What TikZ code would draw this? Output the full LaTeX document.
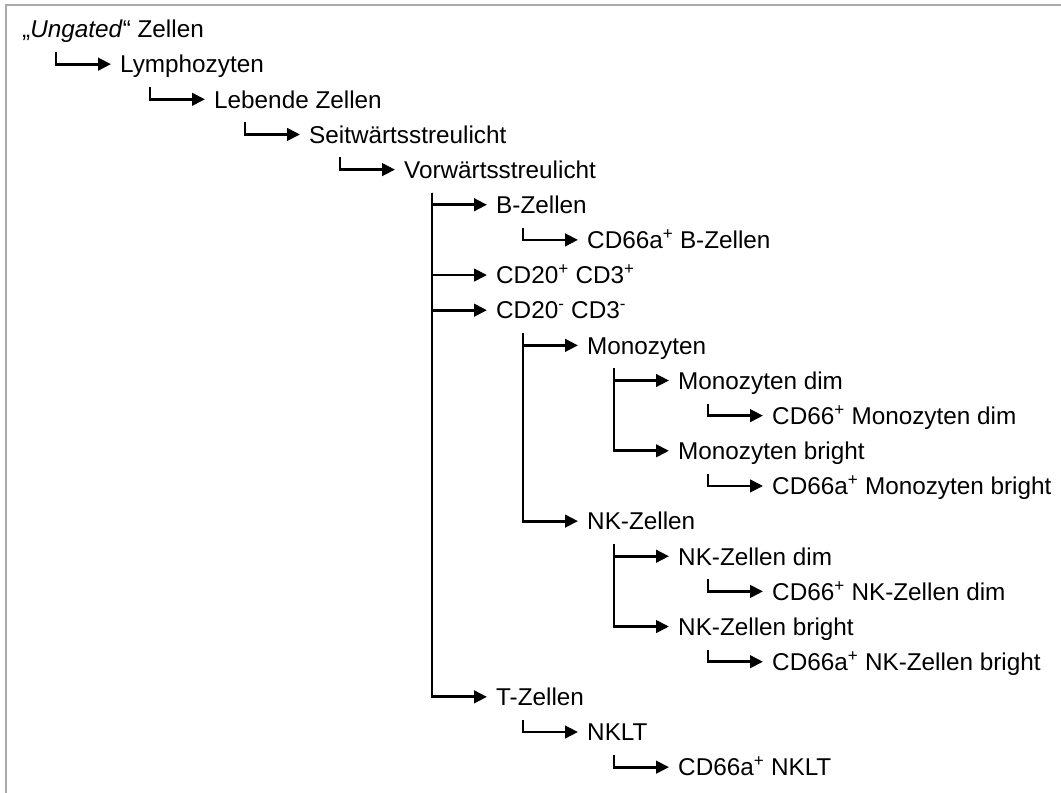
\documentclass[tikz,border=0pt]{standalone}
\usepackage{fontspec}
\setmainfont{Liberation Sans}
\usetikzlibrary{arrows.meta,calc}
\definecolor{framegray}{RGB}{170,170,170}
\newcommand\gatelink[2]{%
  \path ($(#2.west)+(-64,0)$) coordinate (cb) ($(#1.west)+(0,23)$) coordinate (ct);
  \draw[gatearrow] (cb |- ct) -- (cb) -- ($(#2.west)+(-9,0)$);}
\begin{document}
\begin{tikzpicture}[x=1pt,y=-1pt,
  gate/.style={anchor=west, inner sep=0pt, text height=17.5pt, text depth=0pt,
               font=\fontsize{24.3}{29}\selectfont},
  gatearrow/.style={line width=2.8pt, line join=miter, -{Triangle[length=13pt,width=12.5pt]}}]
\useasboundingbox (0,0) rectangle (1061,793);
\draw[framegray, line width=2pt] (6,793) -- (6,5) -- (1061,5);

\node[gate] (n1)  at (22,29)      {„\textit{Ungated}“ Zellen};
\node[gate] (n2)  at (120,64.15)  {Lymphozyten};
\node[gate] (n3)  at (214,99.3)   {Lebende Zellen};
\node[gate] (n4)  at (309,134.45) {Seitwärtsstreulicht};
\node[gate] (n5)  at (404,169.6)  {Vorwärtsstreulicht};
\node[gate] (n6)  at (496,204.75) {B-Zellen};
\node[gate] (n7)  at (587,239.9)  {CD66a\textsuperscript{+} B-Zellen};
\node[gate] (n8)  at (496,275.05) {CD20\textsuperscript{+} CD3\textsuperscript{+}};
\node[gate] (n9)  at (496,310.2)  {CD20\textsuperscript{-} CD3\textsuperscript{-}};
\node[gate] (n10) at (587,345.35) {Monozyten};
\node[gate] (n11) at (678,380.5)  {Monozyten dim};
\node[gate] (n12) at (772,415.65) {CD66\textsuperscript{+} Monozyten dim};
\node[gate] (n13) at (678,450.8)  {Monozyten bright};
\node[gate] (n14) at (772,485.95) {CD66a\textsuperscript{+} Monozyten bright};
\node[gate] (n15) at (587,521.1)  {NK-Zellen};
\node[gate] (n16) at (678,556.25) {NK-Zellen dim};
\node[gate] (n17) at (772,591.4)  {CD66\textsuperscript{+} NK-Zellen dim};
\node[gate] (n18) at (678,626.55) {NK-Zellen bright};
\node[gate] (n19) at (772,661.7)  {CD66a\textsuperscript{+} NK-Zellen bright};
\node[gate] (n20) at (496,696.85) {T-Zellen};
\node[gate] (n21) at (587,732)    {NKLT};
\node[gate] (n22) at (678,767.15) {CD66a\textsuperscript{+} NKLT};

\gatelink{n1}{n2}
\gatelink{n2}{n3}
\gatelink{n3}{n4}
\gatelink{n4}{n5}
\gatelink{n5}{n6}
\gatelink{n6}{n7}
\gatelink{n5}{n8}
\gatelink{n5}{n9}
\gatelink{n9}{n10}
\gatelink{n10}{n11}
\gatelink{n11}{n12}
\gatelink{n10}{n13}
\gatelink{n13}{n14}
\gatelink{n9}{n15}
\gatelink{n15}{n16}
\gatelink{n16}{n17}
\gatelink{n15}{n18}
\gatelink{n18}{n19}
\gatelink{n5}{n20}
\gatelink{n20}{n21}
\gatelink{n21}{n22}
\end{tikzpicture}
\end{document}
